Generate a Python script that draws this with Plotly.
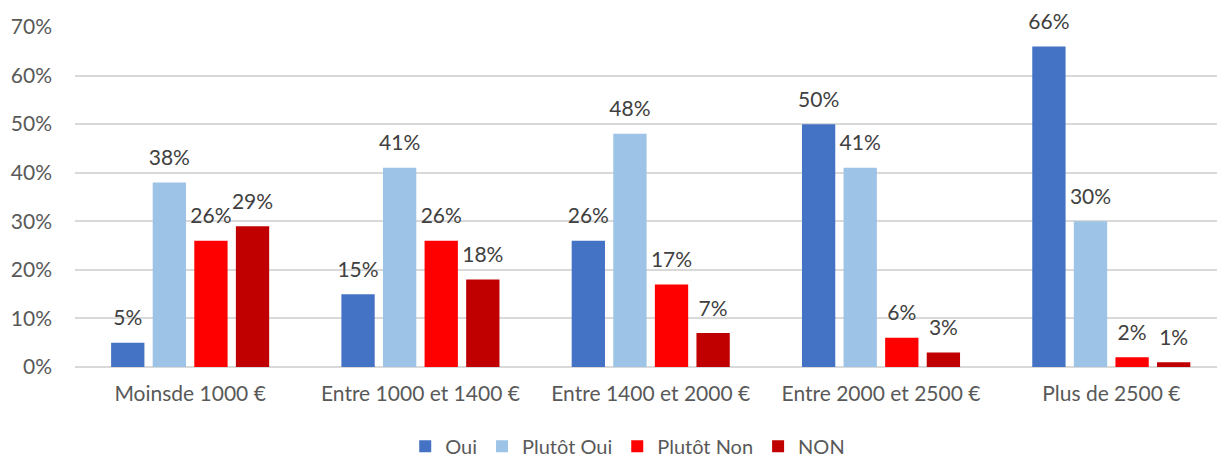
import plotly.graph_objects as go

categories = ["Moinsde 1000 €", "Entre 1000 et 1400 €", "Entre 1400 et 2000 €",
              "Entre 2000 et 2500 €", "Plus de 2500 €"]
oui = [5, 15, 26, 50, 66]
plutot_oui = [38, 41, 48, 41, 30]
plutot_non = [26, 26, 17, 6, 2]
non = [29, 18, 7, 3, 1]

series = [
    ("Oui", oui, "#4472C4"),
    ("Plutôt Oui", plutot_oui, "#9DC3E6"),
    ("Plutôt Non", plutot_non, "#FF0000"),
    ("NON", non, "#C00000"),
]

FONT = "Lato, Calibri, Carlito, sans-serif"
TEXT_GREY = "#595959"

# Bar geometry in category units (one category = 1.0)
BAR_W = 0.1446
BAR_GAP = 0.036
GROUP_W = 4 * BAR_W + 3 * BAR_GAP

idx = list(range(len(categories)))

fig = go.Figure()
for k, (name, vals, color) in enumerate(series):
    left = -GROUP_W / 2 + k * (BAR_W + BAR_GAP)
    centers = [i + left + BAR_W / 2 for i in idx]
    ys = [v / 100 for v in vals]
    fig.add_trace(go.Bar(
        name=name,
        x=centers,
        y=ys,
        width=BAR_W,
        marker=dict(color=color, line=dict(width=0)),
        hovertemplate="%{y:.0%}<extra>" + name + "</extra>",
    ))
    # value labels sitting above each bar
    fig.add_trace(go.Scatter(
        x=centers,
        y=ys,
        mode="markers+text",
        marker=dict(size=18, opacity=0),
        text=[f"{v}%" for v in vals],
        textposition="top center",
        textfont=dict(family=FONT, size=21, color="#404040"),
        showlegend=False,
        hoverinfo="skip",
        cliponaxis=False,
    ))

fig.update_layout(
    width=1217, height=459,
    margin=dict(l=75, r=0, t=27, b=92),
    paper_bgcolor="white", plot_bgcolor="white",
    barmode="overlay",
    font=dict(family=FONT, size=21, color=TEXT_GREY),
    showlegend=True,
    legend=dict(orientation="h", x=0.484, xanchor="center",
                yref="container", y=0.028, yanchor="middle",
                font=dict(family=FONT, size=20, color=TEXT_GREY),
                traceorder="normal"),
)
fig.update_xaxes(range=[-0.5, 4.459], tickvals=idx, ticktext=categories,
                 showgrid=False, showline=False, zeroline=False, ticks="",
                 ticklabelstandoff=12,
                 tickfont=dict(family=FONT, size=21, color=TEXT_GREY))
fig.update_yaxes(range=[0, 0.7], dtick=0.1, tickformat=".0%", showgrid=True,
                 gridcolor="#D9D9D9", gridwidth=1.5, zeroline=True, zerolinecolor="#D9D9D9",
                 zerolinewidth=1.5, showline=False, ticks="", ticklabelstandoff=22,
                 tickfont=dict(family=FONT, size=21, color=TEXT_GREY))

fig.write_html("out.html")
